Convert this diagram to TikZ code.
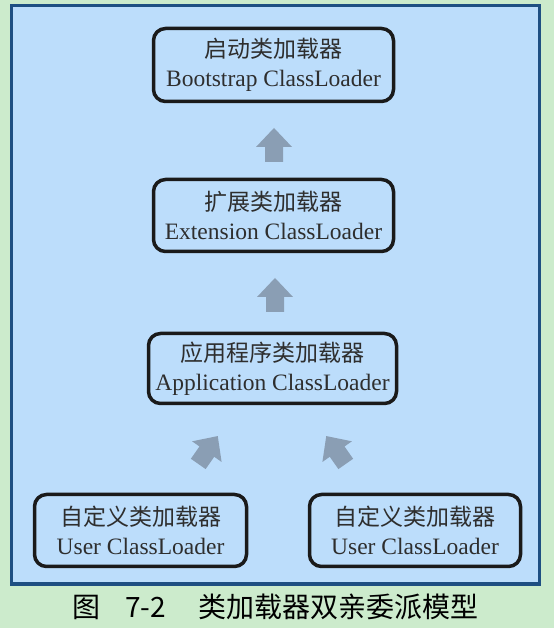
\documentclass[tikz,border=0pt]{standalone}
\usepackage{fontspec}
\setmainfont{Liberation Serif}
\newfontfamily\cjk{Noto Sans CJK SC}
\usetikzlibrary{positioning}
\definecolor{bggreen}{HTML}{CCEBCC}
\definecolor{panelblue}{HTML}{BCDDFB}
\definecolor{panelborder}{HTML}{1E4F82}
\definecolor{boxline}{HTML}{1A1A1A}
\definecolor{arrowgray}{HTML}{8A9EB4}
\definecolor{textgray}{HTML}{2E2E2E}
\newcommand{\cjkline}[1]{{\cjk\fontsize{23}{29}\selectfont #1}}
\tikzset{
  loaderbox/.style={draw=boxline, line width=3.5pt, rounded corners=12pt,
    align=center, text=textgray, inner sep=0pt,
    font=\fontsize{23.5}{29}\selectfont},
  blockarrow/.style={fill=arrowgray, draw=none},
  capfont/.style={font=\cjk\fontsize{28}{32}\selectfont, text=black, inner sep=0pt}
}
\begin{document}
\begin{tikzpicture}[x=1pt,y=1pt]
\useasboundingbox (0,0) rectangle (554,628);
\fill[bggreen] (0,0) rectangle (554,628);
\draw[panelborder, fill=panelblue, line width=3.5pt] (11.5,44) rectangle (539.5,622.5);

\node[loaderbox, minimum width=240pt, minimum height=73pt] (boot) at (273.5,563)
  {\cjkline{启动类加载器}\\Bootstrap ClassLoader};
\node[loaderbox, minimum width=240pt, minimum height=72pt] (ext) at (273.5,412.5)
  {\cjkline{扩展类加载器}\\Extension ClassLoader};
\node[loaderbox, minimum width=248pt, minimum height=70pt] (app) at (272.5,259.5)
  {\cjkline{应用程序类加载器}\\Application ClassLoader};
\node[loaderbox, minimum width=212pt, minimum height=72pt] (user1) at (140.5,97.5)
  {\cjkline{自定义类加载器}\\User ClassLoader};
\node[loaderbox, minimum width=211pt, minimum height=72pt] (user2) at (415,97.5)
  {\cjkline{自定义类加载器}\\User ClassLoader};

% block arrows (child -> parent)
\coordinate (a1) at (274,483);
\coordinate (a2) at (275,333);
\coordinate (a3) at (208,178);
\coordinate (a4) at (336,178);
\foreach \c/\r in {a1/0, a2/0, a3/-35, a4/35}{
  \fill[blockarrow, shift={(\c)}, rotate=\r]
    (0,17) -- (18,-2) -- (9,-2) -- (9,-17) -- (-9,-17) -- (-9,-2) -- (-18,-2) -- cycle;
}

\node[capfont, anchor=west] (cap) at (72,21)
  {图\hspace{25pt}7-2\hspace{33pt}类加载器双亲委派模型};
\end{tikzpicture}
\end{document}
